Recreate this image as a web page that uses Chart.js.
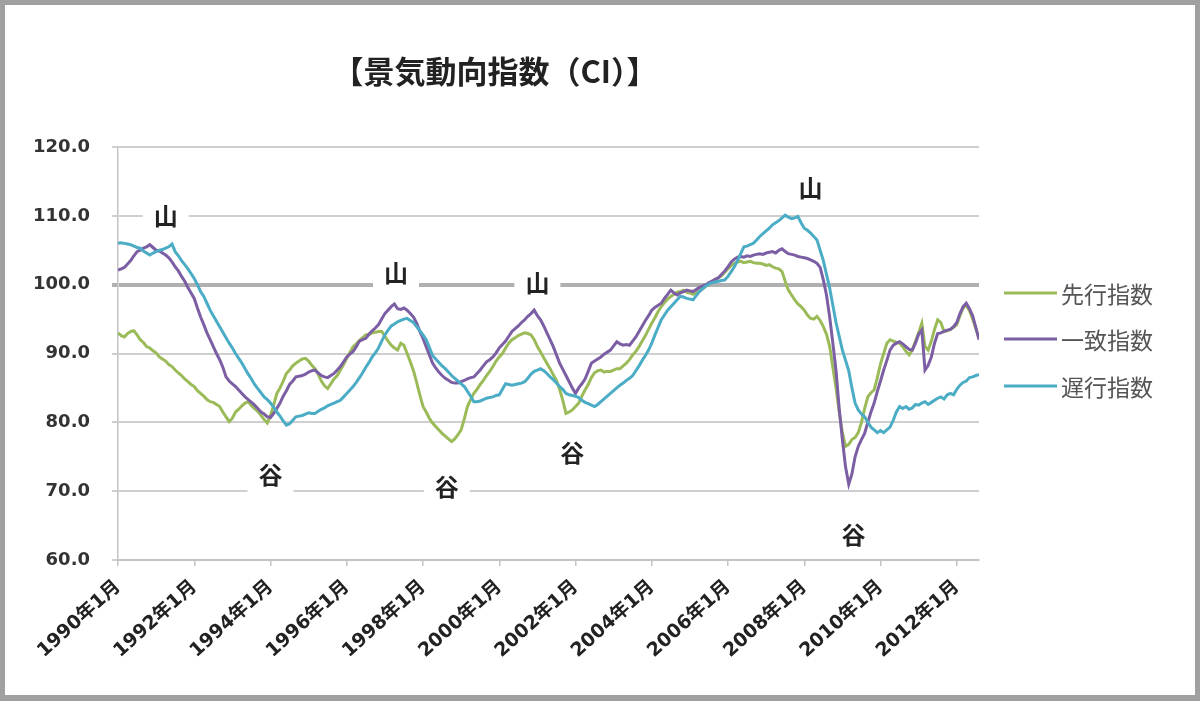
<!DOCTYPE html>
<html>
<head>
<meta charset="utf-8">
<script src="https://cdn.jsdelivr.net/npm/chart.js@4.4.1/dist/chart.umd.min.js"></script>
<style>
  html, body { margin: 0; padding: 0; background: #fff; }
  #wrap { position: relative; width: 1200px; height: 701px; }
  #frame { position: absolute; left: 0; top: 0; width: 1200px; height: 701px; box-sizing: border-box;
           border-style: solid; border-color: #a0a0a0; border-width: 5px 5px 6px 5px; pointer-events: none; }
</style>
</head>
<body>
<div id="wrap">
  <canvas id="c" width="1200" height="701"></canvas>
  <div id="frame"></div>
</div>
<script>
// ---- data (monthly, 1990年1月 .. 2012年8月) ----
const chartTitle = '【景気動向指数（CI）】';
const seriesNames = ['先行指数', '一致指数', '遅行指数'];
const tickLabels = ['1990年1月','1992年1月','1994年1月','1996年1月','1998年1月','2000年1月',
                    '2002年1月','2004年1月','2006年1月','2008年1月','2010年1月','2012年1月'];
const yTicks = [60, 70, 80, 90, 100, 110, 120];

const leading = [
  93.0, 92.6, 92.4, 92.9, 93.2, 93.3, 92.7, 92.0, 91.6, 91.0, 90.8, 90.4,
  90.1, 89.5, 89.2, 88.9, 88.4, 88.1, 87.6, 87.2, 86.8, 86.3, 85.9, 85.5,
  85.2, 84.6, 84.2, 83.8, 83.3, 83.0, 82.9, 82.6, 82.3, 81.5, 80.8, 80.1,
  80.6, 81.5, 81.9, 82.4, 82.8, 83.0, 82.4, 82.0, 81.6, 81.0, 80.4, 79.9,
  81.0, 82.5, 84.2, 85.0, 86.0, 87.1, 87.6, 88.2, 88.6, 88.9, 89.2, 89.3,
  88.9, 88.3, 87.8, 87.0, 86.0, 85.3, 84.9, 85.6, 86.3, 86.8, 87.6, 88.4,
  89.3, 90.2, 91.0, 91.4, 91.9, 92.3, 92.7, 92.8, 93.0, 93.1, 93.2, 93.2,
  92.5, 91.8, 91.2, 90.8, 90.5, 91.5, 91.2, 90.0, 88.8, 87.5, 85.8, 84.0,
  82.3, 81.5, 80.6, 79.9, 79.4, 78.9, 78.4, 78.0, 77.6, 77.2, 77.6, 78.2,
  78.9, 80.5, 82.3, 83.3, 84.2, 84.8, 85.5, 86.1, 86.8, 87.4, 88.1, 88.9,
  89.5, 90.0, 90.8, 91.5, 92.0, 92.3, 92.6, 92.8, 93.0, 92.9, 92.7, 92.0,
  91.0, 90.2, 89.4, 88.6, 87.8, 86.9, 86.1, 84.8, 83.2, 81.3, 81.5, 81.8,
  82.3, 82.8, 83.8, 84.7, 85.5, 86.5, 87.2, 87.5, 87.6, 87.3, 87.4, 87.4,
  87.6, 87.8, 87.8, 88.2, 88.6, 89.1, 89.8, 90.3, 91.0, 91.8, 92.6, 93.5,
  94.4, 95.2, 96.1, 96.8, 97.4, 97.9, 98.3, 98.6, 98.9, 99.0, 99.2, 98.9,
  98.8, 98.6, 98.8, 99.1, 99.4, 99.8, 100.1, 100.5, 100.7, 101.0, 101.3, 101.8,
  102.3, 102.8, 103.1, 103.3, 103.4, 103.2, 103.3, 103.4, 103.2, 103.1, 103.1, 103.0,
  102.8, 102.9, 102.6, 102.4, 102.3, 101.9, 100.5, 99.2, 98.5, 97.8, 97.2, 96.8,
  96.3, 95.6, 95.1, 95.0, 95.4, 94.8, 93.9, 92.8, 91.0, 88.0, 85.0, 81.5,
  78.5, 76.5, 76.8, 77.5, 77.8, 78.5, 80.0, 82.0, 83.7, 84.3, 84.7, 86.5,
  88.5, 90.0, 91.5, 92.0, 91.8, 91.6, 91.5, 91.0, 90.3, 89.8, 90.5, 91.8,
  93.0, 94.4, 91.0, 90.5, 91.8, 93.5, 94.9, 94.5, 93.2, 93.3, 93.5, 93.8,
  94.2, 95.5, 96.6, 97.0, 96.2, 95.0, 93.6, 92.2
];

const coincident = [
  102.1, 102.3, 102.5, 103.0, 103.5, 104.2, 104.8, 105.0, 105.3, 105.5, 105.8, 105.4,
  105.0, 104.9, 104.6, 104.3, 103.9, 103.3, 102.6, 102.0, 101.2, 100.5, 99.6, 98.8,
  98.0, 96.6, 95.3, 94.2, 93.0, 92.0, 91.0, 90.0, 89.1, 88.0, 86.6, 86.0,
  85.6, 85.2, 84.7, 84.2, 83.7, 83.3, 82.9, 82.5, 82.0, 81.5, 81.2, 80.8,
  80.7, 81.3, 82.0, 82.8, 83.8, 84.6, 85.5, 86.0, 86.6, 86.7, 86.8, 87.0,
  87.3, 87.5, 87.6, 87.2, 86.8, 86.6, 86.5, 86.8, 87.1, 87.6, 88.1, 88.8,
  89.5, 89.9, 90.3, 91.0, 91.8, 92.0, 92.2, 92.8, 93.3, 93.7, 94.2, 95.0,
  95.8, 96.3, 96.8, 97.2, 96.5, 96.4, 96.6, 96.3, 95.8, 95.3, 94.4, 93.2,
  92.2, 91.0, 89.8, 88.6, 87.9, 87.3, 86.8, 86.4, 86.1, 85.8, 85.7, 85.7,
  85.9, 86.1, 86.3, 86.5, 86.6, 87.1, 87.6, 88.2, 88.8, 89.1, 89.5, 90.1,
  90.8, 91.3, 91.8, 92.5, 93.2, 93.6, 94.0, 94.5, 94.9, 95.4, 95.8, 96.3,
  95.5, 94.9, 94.0, 93.0, 92.0, 91.0, 89.8, 88.6, 87.7, 86.8, 85.9, 85.0,
  84.2, 85.0, 85.6, 86.3, 87.4, 88.6, 88.9, 89.2, 89.5, 89.9, 90.2, 90.5,
  91.1, 91.7, 91.4, 91.2, 91.3, 91.2, 91.8, 92.4, 93.2, 94.0, 94.8, 95.5,
  96.3, 96.7, 97.0, 97.3, 98.0, 98.6, 99.2, 98.8, 98.5, 98.8, 99.0, 99.2,
  99.1, 99.0, 99.3, 99.6, 99.8, 100.0, 100.3, 100.5, 100.8, 101.0, 101.5, 102.0,
  102.6, 103.3, 103.7, 104.0, 104.1, 104.0, 104.2, 104.1, 104.3, 104.4, 104.5, 104.4,
  104.6, 104.7, 104.8, 104.6, 105.0, 105.2, 104.8, 104.5, 104.4, 104.3, 104.1, 104.0,
  103.9, 103.8, 103.6, 103.4, 103.1, 102.5, 100.7, 98.5, 95.3, 91.5, 87.5, 82.0,
  77.5, 73.5, 71.0, 72.5, 75.0, 76.5, 77.5, 78.4, 80.0, 81.5, 82.8, 84.5,
  86.0, 87.6, 89.0, 90.5, 91.2, 91.5, 91.7, 91.4, 91.0, 90.6, 90.5, 91.5,
  92.8, 93.4, 87.6, 88.3, 89.5, 91.5, 92.9, 93.0, 93.2, 93.4, 93.5, 93.9,
  94.5, 95.8, 96.8, 97.3, 96.5, 95.5, 93.8, 92.0
];

const lagging = [
  106.0, 106.1, 106.0, 105.9, 105.8, 105.6, 105.4, 105.3, 104.9, 104.6, 104.3, 104.6,
  104.8, 105.0, 105.1, 105.3, 105.5, 105.9, 104.8, 104.2, 103.5, 102.9, 102.3, 101.6,
  100.9, 100.0, 99.0, 98.3, 97.3, 96.3, 95.5, 94.7, 93.9, 93.1, 92.3, 91.5,
  90.8, 90.0, 89.3, 88.6, 87.8, 87.0, 86.3, 85.5, 84.9, 84.3, 83.7, 83.3,
  82.8, 82.2, 81.5, 80.9, 80.2, 79.6, 79.8, 80.3, 80.8, 80.9, 81.0, 81.2,
  81.4, 81.3, 81.3, 81.6, 81.9, 82.1, 82.4, 82.6, 82.8, 83.0, 83.2, 83.7,
  84.2, 84.7, 85.2, 85.8, 86.5, 87.2, 88.0, 88.7, 89.5, 90.1, 90.8, 91.8,
  92.7, 93.4, 94.0, 94.3, 94.6, 94.8, 95.0, 95.1, 94.8, 94.5, 93.9, 93.3,
  92.7, 92.0, 90.9, 89.7, 89.2, 88.7, 88.2, 87.8, 87.3, 86.8, 86.4, 86.0,
  85.6, 85.2, 84.5, 83.8, 83.0, 83.0, 83.1, 83.3, 83.5, 83.6, 83.7, 83.9,
  84.0, 84.8, 85.6, 85.5, 85.4, 85.5, 85.6, 85.7, 85.9, 86.4, 87.0, 87.4,
  87.6, 87.8, 87.5, 87.1, 86.6, 86.2, 85.7, 85.2, 84.8, 84.2, 84.0, 83.9,
  83.8, 83.6, 83.2, 82.9, 82.7, 82.5, 82.3, 82.6, 83.0, 83.4, 83.8, 84.2,
  84.6, 85.0, 85.4, 85.7, 86.1, 86.4, 86.8, 87.5, 88.2, 89.0, 89.7, 90.5,
  91.5, 92.7, 93.8, 94.9, 95.6, 96.3, 96.8, 97.3, 97.8, 98.3, 98.2, 98.0,
  97.9, 97.8, 98.4, 99.0, 99.4, 99.8, 100.1, 100.3, 100.4, 100.5, 100.6, 100.7,
  101.2, 101.9, 102.6, 103.5, 104.5, 105.5, 105.6, 105.8, 106.0, 106.5, 107.0, 107.4,
  107.8, 108.2, 108.7, 109.0, 109.3, 109.7, 110.1, 109.8, 109.6, 109.7, 109.9, 109.0,
  108.2, 107.9, 107.5, 107.0, 106.5, 105.0, 103.5, 101.5, 99.5, 97.0, 94.5, 92.5,
  90.5, 89.0, 87.5, 85.0, 82.8, 81.8, 81.2, 80.8, 80.0, 79.3, 78.9, 78.5,
  78.8, 78.5, 78.9, 79.3, 80.3, 81.5, 82.3, 82.0, 82.3, 81.9, 82.1, 82.6,
  82.5, 82.8, 83.0, 82.6, 82.9, 83.2, 83.5, 83.7, 83.4, 84.0, 84.2, 84.0,
  84.8, 85.4, 85.8, 86.0, 86.5, 86.6, 86.8, 86.9
];

// 山 / 谷 annotations (month index from 1990年1月, index value)
const annoText  = ['山', '山', '山', '山', '谷', '谷', '谷', '谷'];
const annoMonth = [15, 87.5, 132, 218, 48, 103.5, 143, 231.5];
const annoValue = [110, 101.7, 100.2, 114, 72.3, 70.6, 75.5, 63.6];

const colors = ['#9BBB59', '#7B5EA3', '#4BACC6'];
const seriesData = [leading, coincident, lagging];
const monthCount = leading.length;

const overlay = {
  id: 'overlay',
  beforeDatasetsDraw(chart) {
    const { ctx, scales: { x, y } } = chart;
    ctx.save();
    ctx.font = 'bold 24px "Noto Sans CJK JP"';
    ctx.textAlign = 'center';
    ctx.textBaseline = 'middle';
    annoText.forEach((t, i) => {
      const px = x.getPixelForValue(annoMonth[i]);
      const py = y.getPixelForValue(annoValue[i]);
      ctx.fillStyle = '#ffffff';
      ctx.fillRect(px - 23, py - 17, 46, 34);
      ctx.fillStyle = '#222222';
      ctx.fillText(t, px, py);
    });
    ctx.restore();
  },
  afterDraw(chart) {
    const { ctx } = chart;
    ctx.save();
    ctx.font = 'bold 31px "Noto Sans CJK JP"';
    ctx.fillStyle = '#222222';
    ctx.textAlign = 'center';
    ctx.textBaseline = 'middle';
    ctx.fillText(chartTitle, 495, 71);
    // legend
    const rowY = [293, 339, 386];
    ctx.font = '23px "Noto Sans CJK JP"';
    ctx.textAlign = 'left';
    seriesNames.forEach((n, i) => {
      ctx.strokeStyle = colors[i];
      ctx.lineWidth = 3;
      ctx.beginPath();
      ctx.moveTo(1004, rowY[i]);
      ctx.lineTo(1057, rowY[i]);
      ctx.stroke();
      ctx.fillStyle = '#555555';
      ctx.fillText(n, 1061, rowY[i] + 1);
    });
    ctx.restore();
  }
};

new Chart(document.getElementById('c'), {
  type: 'line',
  data: {
    datasets: seriesData.map((arr, i) => ({
      label: seriesNames[i],
      data: arr.map((v, k) => ({ x: k, y: v })),
      borderColor: colors[i],
      borderWidth: 3,
      pointRadius: 0,
      tension: 0,
      fill: false,
      order: 3 - i
    }))
  },
  options: {
    responsive: false,
    animation: false,
    devicePixelRatio: 1,
    layout: { padding: { top: 147, right: 221, bottom: 0, left: 0 } },
    plugins: { legend: { display: false }, title: { display: false }, tooltip: { enabled: false } },
    scales: {
      x: {
        type: 'linear',
        min: 0,
        max: monthCount - 1,
        afterFit(s) { s.height = 141; },
        border: { display: true, color: '#c4c4c4', width: 2 },
        grid: { drawOnChartArea: false, drawTicks: true, tickLength: 6, color: '#c4c4c4', lineWidth: 1.5 },
        ticks: {
          stepSize: 24,
          autoSkip: false,
          includeBounds: false,
          maxTicksLimit: 30,
          maxRotation: 42,
          minRotation: 42,
          padding: 10,
          color: '#222',
          font: { family: '"DejaVu Sans", "Noto Sans CJK JP"', size: 19, weight: 'bold' },
          callback: (v) => tickLabels[Math.round(v / 24)]
        }
      },
      y: {
        min: 60,
        max: 120,
        afterFit(s) { s.width = 118; },
        afterBuildTicks(s) { s.ticks = yTicks.map(v => ({ value: v })); },
        border: { display: true, color: '#c4c4c4', width: 1.5 },
        grid: {
          drawTicks: true,
          tickLength: 6,
          color: (c) => (c.tick && c.tick.value === 100) ? '#b0b0b0' : '#cfcfcf',
          lineWidth: (c) => (c.tick && c.tick.value === 100) ? 4 : 2
        },
        ticks: {
          padding: 22,
          color: '#333',
          font: { family: '"DejaVu Sans"', size: 18, weight: 'bold' },
          callback: (v) => Number(v).toFixed(1)
        }
      }
    }
  },
  plugins: [overlay]
});
</script>
</body>
</html>
